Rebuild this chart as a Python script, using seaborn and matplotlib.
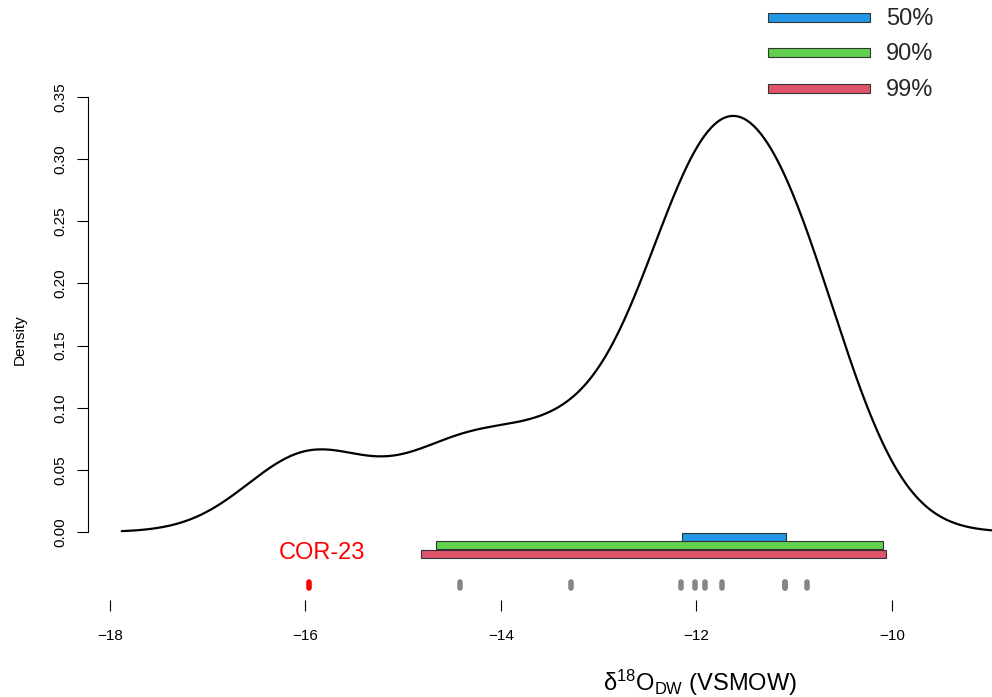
import matplotlib
matplotlib.use('Agg')
import numpy as np
import matplotlib.pyplot as plt
from matplotlib.markers import MarkerStyle
import seaborn as sns

sns.set_theme(style='ticks')
plt.rcParams['font.family'] = ['Liberation Sans', 'DejaVu Sans']
plt.rcParams['mathtext.fontset'] = 'custom'
plt.rcParams['mathtext.rm'] = 'Liberation Sans'
plt.rcParams['mathtext.it'] = 'Liberation Sans:italic'

# samples (d18O of drip water)
sample_x = [-14.415, -13.28, -12.16, -12.015, -11.91, -11.74, -11.09, -11.09, -10.87]
cor23_x = [-15.96]
all_x = cor23_x + sample_x

# highest density intervals
levels = ['50%', '90%', '99%']
hdr_low = [-12.148, -14.668, -14.822]
hdr_high = [-11.08, -10.09, -10.06]
hdr_colors = ['#2297E6', '#61D04F', '#DF536B']

y_ticks = [0.00, 0.05, 0.10, 0.15, 0.20, 0.25, 0.30, 0.35]
x_ticks = [-18, -16, -14, -12, -10]

fig = plt.figure(figsize=(9.92, 6.97), dpi=100)
ax = fig.add_axes([88 / 992, 97 / 697, 1224 / 992, 520 / 697])

# gaussian density, bandwidth ~0.64 like R's density()
bw = 0.64
sns.kdeplot(x=all_x, bw_method=bw / np.std(all_x, ddof=1), cut=3, gridsize=512,
            color='black', linewidth=1.6, ax=ax)

# interval bars under the curve
bar_y = [-0.0039, -0.0106, -0.0175]
widths = [h - l for l, h in zip(hdr_low, hdr_high)]
ax.barh(bar_y, widths, left=hdr_low, height=0.0068, color=hdr_colors,
        edgecolor='#333333', linewidth=0.8)

# sample marks
mark = MarkerStyle('|', capstyle='round')
ax.plot(sample_x, [-0.0426] * len(sample_x), ls='none', marker=mark, ms=4.6,
        mew=4, color='#858585')
ax.plot(cor23_x, [-0.0426], ls='none', marker=mark, ms=4.6, mew=4, color='red')
ax.text(-15.83, -0.0169, 'COR-23', color='red', fontsize=17, ha='center',
        va='center')

# legend drawn above the plot
leg_y = [0.4135, 0.3856, 0.3564]
ax.barh(leg_y, [1.04] * 3, left=-11.27, height=0.0072, color=hdr_colors,
        edgecolor='#333333', linewidth=0.8, clip_on=False)
for yy, lab in zip(leg_y, levels):
    ax.text(-10.06, yy - 0.0012, lab, fontsize=17, va='center', ha='left',
            clip_on=False)

ax.set_xlim(-18.225, -18.225 + 1224 / 97.75)
ax.set_ylim(-0.0547, 0.3636)
ax.set_xticks(x_ticks)
ax.set_xticklabels([f'\u2212{abs(t)}' for t in x_ticks])
ax.set_yticks(y_ticks)
ax.set_yticklabels([f'{t:.2f}' for t in y_ticks], rotation=90, va='center')

ax.tick_params(axis='both', length=8, width=0.8, color='black', labelsize=11,
               labelcolor='black', direction='out')
ax.tick_params(axis='x', pad=13)
ax.tick_params(axis='y', pad=7)

for side in ['top', 'right', 'bottom']:
    ax.spines[side].set_visible(False)
ax.spines['left'].set_bounds(0, 0.35)
ax.spines['left'].set_linewidth(0.8)
ax.spines['left'].set_color('black')

ax.set_ylabel('Density', fontsize=11, color='black')
ax.yaxis.set_label_coords(-0.0498, 0.5)
ax.set_xlabel(r'δ$^{18}$O$_{\mathrm{DW}}$ (VSMOW)', fontsize=17, color='black')
ax.xaxis.set_label_coords(0.5, -0.13)

fig.savefig('out.png', dpi=100)
